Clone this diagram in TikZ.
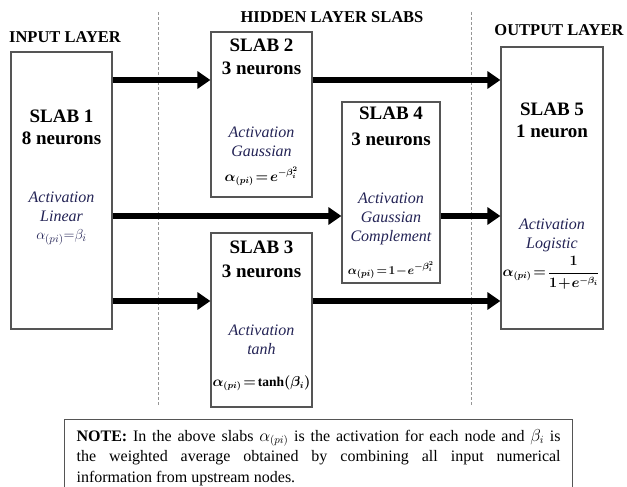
\documentclass[tikz,border=0pt]{standalone}
\usepackage{fontspec}
\setmainfont{Liberation Serif}
\usetikzlibrary{arrows.meta,positioning}

\definecolor{acttext}{RGB}{35,35,85}
\definecolor{boxline}{RGB}{85,85,85}
\definecolor{dashline}{RGB}{150,150,150}

\newcommand{\tightmath}{\thickmuskip=2mu\relax\medmuskip=1mu\relax}

\tikzset{
	slab/.style={draw=boxline, line width=1.2pt, rectangle, inner sep=0pt},
	flow/.style={line width=5.5pt, -{Triangle[length=13pt,width=17pt]}},
	layer/.style={font=\fontsize{16.5}{18}\selectfont\bfseries, anchor=base},
	head/.style={font=\fontsize{19}{22}\selectfont\bfseries, anchor=base},
	act/.style={font=\fontsize{16}{19}\selectfont\itshape, text=acttext, anchor=base},
	formula/.style={font=\fontsize{13.5}{17}\selectfont\boldmath\tightmath, anchor=base},
	divider/.style={dashline, line width=1pt, dash pattern=on 3pt off 2pt},
}

\begin{document}
\begin{tikzpicture}[x=1pt, y=-1pt]
	\useasboundingbox (0,0) rectangle (627,487);
	\clip (0,0) rectangle (627,487);

	% layer borders
	\draw[divider] (158,12) -- (158,405);
	\draw[divider] (471,12) -- (471,405);

	\node[layer] (tin)  at (65,43)  {INPUT LAYER};
	\node[layer] (thid) at (332,23) {HIDDEN LAYER SLABS};
	\node[layer] (tout) at (559,36) {OUTPUT LAYER};

	% slabs
	\node[slab, minimum width=101pt, minimum height=277pt] (s1) at (61.5,190.5) {};
	\node[slab, minimum width=101pt, minimum height=165pt] (s2) at (261.5,114.5) {};
	\node[slab, minimum width=101pt, minimum height=174pt] (s3) at (261.5,320) {};
	\node[slab, minimum width=98pt, minimum height=181pt] (s4) at (391,192.5) {};
	\node[slab, minimum width=102pt, minimum height=282pt] (s5) at (552,188) {};

	\node[head] (h1) at (61.5,122) {SLAB 1};
	\node[head] (n1) at (61.5,144) {8 neurons};
	\node[act] (a1) at (61.5,202) {Activation};
	\node[act] (f1) at (61.5,221) {Linear};
	\node[act, font=\fontsize{15}{18}\selectfont] (e1) at (61.5,239) {$\alpha_{(pi)}{=}\beta_i$};

	\node[head] (h2) at (261.5,52) {SLAB 2};
	\node[head] (n2) at (261.5,75) {3 neurons};
	\node[act] (a2) at (261.5,137) {Activation};
	\node[act] (f2) at (261.5,156) {Gaussian};
	\node[formula] (e2) at (261.5,181) {$\alpha_{(pi)} = e^{-\beta_i^2}$};

	\node[head] (h3) at (261.5,253) {SLAB 3};
	\node[head] (n3) at (261.5,277) {3 neurons};
	\node[act] (a3) at (261.5,335) {Activation};
	\node[act] (f3) at (261.5,354) {tanh};
	\node[formula] (e3) at (261.5,386) {$\alpha_{(pi)} = \tanh\!\left(\beta_i\right)$};

	\node[head] (h4) at (391,120) {SLAB 4};
	\node[head] (n4) at (391,145) {3 neurons};
	\node[act] (a4) at (391,203) {Activation};
	\node[act] (f4) at (391,222) {Gaussian};
	\node[act] (c4) at (391,241) {Complement};
	\node[formula, font=\fontsize{12.5}{16}\selectfont\boldmath\tightmath] (e4) at (391,274) {$\alpha_{(pi)} = 1 - e^{-\beta_i^2}$};

	\node[head] (h5) at (552,115) {SLAB 5};
	\node[head] (n5) at (552,137) {1 neuron};
	\node[act] (a5) at (552,229) {Activation};
	\node[act] (f5) at (552,248) {Logistic};
	\node[formula, anchor=center] (e5) at (551,273) {$\displaystyle\alpha_{(pi)} = \frac{1}{1+e^{-\beta_i}}$};

	% connections
	\coordinate (r1) at (0,80);
	\coordinate (r2) at (0,216);
	\coordinate (r3) at (0,301);
	\draw[flow] (s1.east |- r1) -- (s2.west |- r1);
	\draw[flow] (s2.east |- r1) -- (s5.west |- r1);
	\draw[flow] (s1.east |- r2) -- (s4.west |- r2);
	\draw[flow] (s4.east |- r2) -- (s5.west |- r2);
	\draw[flow] (s1.east |- r3) -- (s3.west |- r3);
	\draw[flow] (s3.east |- r3) -- (s5.west |- r3);

	% note
	\node[draw=boxline, line width=1.2pt, anchor=north west, inner xsep=12pt, inner ysep=0pt,
		minimum height=76pt, text width=484pt, align=justify,
		font=\fontsize{16}{20.5}\selectfont] (note) at (64,419)
		{\textbf{NOTE:} In the above slabs $\alpha_{(pi)}$ is the activation for each node and $\beta_i$ is\linebreak
		the weighted average obtained by combining all input numerical\linebreak
		information from upstream nodes.\par};
\end{tikzpicture}
\end{document}
